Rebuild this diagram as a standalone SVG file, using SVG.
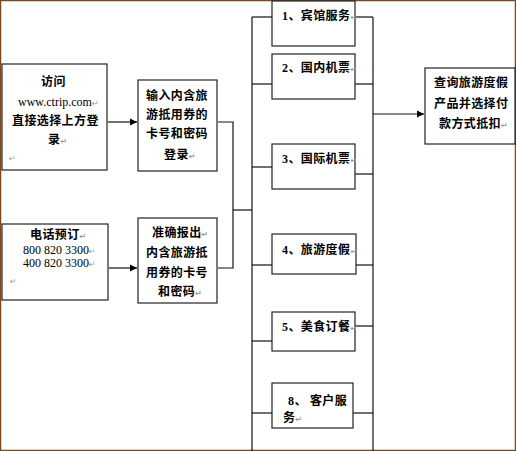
<svg xmlns="http://www.w3.org/2000/svg" width="516" height="451" viewBox="0 0 516 451">
<style>
.box{fill:#fff;stroke:#222;stroke-width:1.2}
.cn{font-family:"Noto Sans CJK SC","Noto Sans",sans-serif;font-weight:bold;font-size:12px;fill:#000;letter-spacing:0.4px}
.lat{font-family:"Liberation Serif",serif;font-size:12px;fill:#000}
.pm{font-family:"DejaVu Sans",sans-serif;font-size:8px;fill:#999}
.ln{stroke:#111;stroke-width:1.2;fill:none}
</style>
<defs>
<marker id="arr" markerWidth="8" markerHeight="8" refX="7" refY="4" orient="auto" markerUnits="userSpaceOnUse">
<path d="M0,0.5 L7,4 L0,7.5 Z" fill="#000"/>
</marker>
</defs>
<rect x="0.5" y="0.5" width="515" height="450" fill="#fff" stroke="#7a4a1e" stroke-width="1.5"/>

<g id="connectors">
<line class="ln" x1="108" y1="122" x2="137" y2="122" marker-end="url(#arr)"/>
<line class="ln" x1="109" y1="268" x2="137" y2="268" marker-end="url(#arr)"/>
<polyline class="ln" points="218,122 233,122 233,268 218,268"/>
<line class="ln" x1="233" y1="210" x2="252" y2="210"/>
<line class="ln" x1="252" y1="17" x2="252" y2="451"/>
<line class="ln" x1="373" y1="17" x2="373" y2="451"/>
<line class="ln" x1="252" y1="17" x2="272" y2="17"/>
<line class="ln" x1="355" y1="17" x2="373" y2="17"/>
<line class="ln" x1="252" y1="84" x2="272" y2="84"/>
<line class="ln" x1="355" y1="84" x2="373" y2="84"/>
<line class="ln" x1="252" y1="167" x2="272" y2="167"/>
<line class="ln" x1="355" y1="174" x2="373" y2="174"/>
<line class="ln" x1="252" y1="265" x2="272" y2="265"/>
<line class="ln" x1="356" y1="265" x2="373" y2="265"/>
<line class="ln" x1="252" y1="341" x2="272" y2="341"/>
<line class="ln" x1="353" y1="326" x2="373" y2="326"/>
<line class="ln" x1="252" y1="413" x2="272" y2="413"/>
<line class="ln" x1="353" y1="413" x2="373" y2="413"/>
<line class="ln" x1="373" y1="114" x2="424" y2="114" marker-end="url(#arr)"/>
</g>

<g id="node-visit">
<rect class="box" x="2" y="64" width="105" height="106"/>
<text class="cn" x="41" y="86">访问</text>
<text class="lat" x="18" y="106">www.ctrip.com<tspan class="pm">↵</tspan></text>
<text class="cn" x="12" y="125">直接选择上方登</text>
<text class="cn" x="48" y="144">录<tspan class="pm">↵</tspan></text>
<text class="pm" x="9" y="161">↵</text>
</g>

<g id="node-input">
<rect class="box" x="138" y="80" width="79" height="91"/>
<text class="cn" x="146" y="100">输入内含旅</text>
<text class="cn" x="146" y="119">游抵用券的</text>
<text class="cn" x="146" y="138">卡号和密码</text>
<text class="cn" x="164" y="159">登录<tspan class="pm">↵</tspan></text>
</g>

<g id="node-phone">
<rect class="box" x="2" y="224" width="106" height="76"/>
<text class="cn" x="30" y="239">电话预订<tspan class="pm">↵</tspan></text>
<text class="lat" x="23" y="254">800 820 3300<tspan class="pm">↵</tspan></text>
<text class="lat" x="23" y="267">400 820 3300<tspan class="pm">↵</tspan></text>
<text class="pm" x="10" y="284">↵</text>
</g>

<g id="node-report">
<rect class="box" x="138" y="218" width="79" height="85"/>
<text class="cn" x="152" y="237">准确报出<tspan class="pm">↵</tspan></text>
<text class="cn" x="146" y="257">内含旅游抵</text>
<text class="cn" x="146" y="277">用券的卡号</text>
<text class="cn" x="158" y="296">和密码<tspan class="pm">↵</tspan></text>
</g>

<g id="node-s1">
<rect class="box" x="272" y="1" width="83" height="45"/>
<text class="cn" x="282" y="20"><tspan class="lat">1</tspan>、宾馆服务<tspan class="pm">↵</tspan></text>
</g>
<g id="node-s2">
<rect class="box" x="272" y="54" width="83" height="45"/>
<text class="cn" x="282" y="72"><tspan class="lat">2</tspan>、国内机票<tspan class="pm">↵</tspan></text>
</g>
<g id="node-s3">
<rect class="box" x="272" y="144" width="83" height="45"/>
<text class="cn" x="282" y="163"><tspan class="lat">3</tspan>、国际机票<tspan class="pm">↵</tspan></text>
</g>
<g id="node-s4">
<rect class="box" x="272" y="234" width="84" height="40"/>
<text class="cn" x="282" y="254"><tspan class="lat">4</tspan>、旅游度假<tspan class="pm">↵</tspan></text>
</g>
<g id="node-s5">
<rect class="box" x="272" y="312" width="83" height="39"/>
<text class="cn" x="282" y="331"><tspan class="lat">5</tspan>、美食订餐<tspan class="pm">↵</tspan></text>
</g>
<g id="node-s8">
<rect class="box" x="272" y="383" width="81" height="45"/>
<text class="cn" x="288" y="405"><tspan class="lat">8</tspan>、 客户服</text>
<text class="cn" x="283" y="422">务<tspan class="pm">↵</tspan></text>
</g>

<g id="node-query">
<rect class="box" x="425" y="68" width="90" height="76"/>
<text class="cn" x="434" y="87">查询旅游度假</text>
<text class="cn" x="434" y="108">产品并选择付</text>
<text class="cn" x="439" y="128">款方式抵扣<tspan class="pm">↵</tspan></text>
</g>
</svg>
